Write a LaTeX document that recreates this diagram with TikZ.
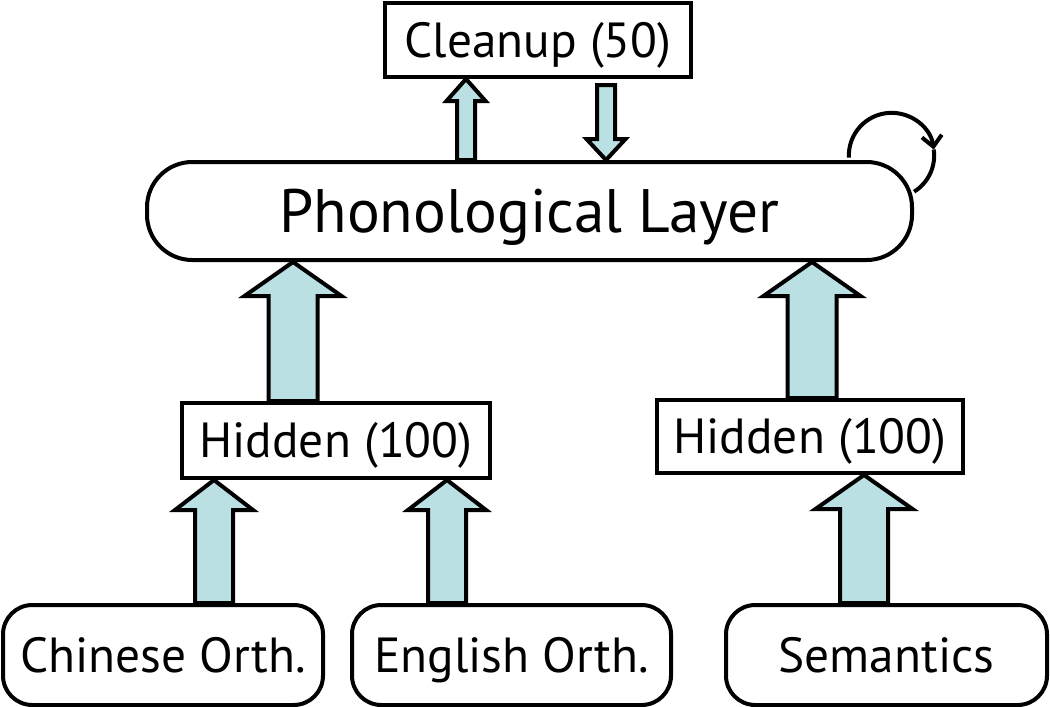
\documentclass[tikz,border=0pt]{standalone}
\usepackage{fontspec}
\setmainfont{PT Sans}
\usetikzlibrary{calc}
\usetikzlibrary{arrows.meta}
\definecolor{arrowfill}{RGB}{187,224,228}

% block arrow from #1 to #2: shaft half width, head half width, head length (px, signed)
\newcommand{\blockarrow}[5]{%
  \draw[barrow] let \p1=(#1), \p2=(#2), \n1={\y2-(#5)*0.75pt} in
    ({\x1-#3*0.75pt},\y1) -- ({\x1-#3*0.75pt},\n1)
    -- ({\x1-#4*0.75pt},\n1) -- (\x1,\y2)
    -- ({\x1+#4*0.75pt},\n1) -- ({\x1+#3*0.75pt},\n1)
    -- ({\x1+#3*0.75pt},\y1) -- cycle;
}

\begin{document}
\begin{tikzpicture}
  [
    x=0.75pt, y=-0.75pt,
    box/.style={
       draw=black,
       line width=3pt,
       inner sep=0pt,
       text height=26pt,
       text depth=0pt,
       font=\fontsize{37}{40}\selectfont
    },
    rbox/.style={
       box,
       rounded corners=22pt
    },
    barrow/.style={
       draw=black,
       fill=arrowfill,
       line width=3pt
    },
    loopline/.style={
       draw=black,
       line width=3pt
    }
  ]
  \useasboundingbox (0,0) rectangle (1050,707);

  \node (cu) at (538,40)    [box, minimum width=229.5pt, minimum height=55.5pt]  {Cleanup (50)};
  \node (ph) at (529.5,211) [box, rounded corners=34pt, minimum width=573.75pt, minimum height=73.5pt,
                             text height=32pt, font=\fontsize{46}{50}\selectfont] {Phonological Layer};
  \node (hl) at (336,440.5) [box, minimum width=231pt, minimum height=56.25pt]   {Hidden (100)};
  \node (hr) at (810,436.5) [box, minimum width=229.5pt, minimum height=54.75pt] {Hidden (100)};
  \node (cn) at (163,655)   [rbox, minimum width=240pt, minimum height=75pt]     {Chinese Orth.};
  \node (en) at (511.5,655) [rbox, minimum width=239.25pt, minimum height=75pt]  {English Orth.};
  \node (se) at (886.5,655) [rbox, minimum width=240.75pt, minimum height=75pt]  {Semantics};

  \coordinate (xcu1) at (466,0);
  \coordinate (xcu2) at (606,0);
  \coordinate (xhl)  at (293,0);
  \coordinate (xhr)  at (812,0);
  \coordinate (xcn)  at (214,0);
  \coordinate (xen)  at (447,0);
  \coordinate (xse)  at (864,0);
  \coordinate (dn)   at ($(cu.south -| xcu2)+(0,6)$);

  \blockarrow{ph.north -| xcu1}{cu.south -| xcu1}{9}{19.5}{22}
  \blockarrow{dn}{ph.north -| xcu2}{9}{19.5}{-21}
  \blockarrow{hl.north -| xhl}{ph.south -| xhl}{24.5}{48.5}{34}
  \blockarrow{hr.north -| xhr}{ph.south -| xhr}{24.5}{48.5}{34}
  \blockarrow{cn.north -| xcn}{hl.south -| xcn}{19}{39}{30}
  \blockarrow{en.north -| xen}{hl.south -| xen}{19}{39}{30}
  \blockarrow{se.north -| xse}{hr.south -| xse}{24}{48.5}{34}

  % self loop on the phonological layer
  \coordinate (loopc) at ($(ph.north east)+(-22.5,-4.5)$);
  \draw[loopline, -{Straight Barb[length=8pt,width=15pt]}]
    (loopc) ++(183:32pt) arc[start angle=183, end angle=8, radius=32pt];
  \draw[loopline] (loopc) ++(8:32pt) arc[start angle=8, end angle=-58, radius=32pt];
\end{tikzpicture}
\end{document}
